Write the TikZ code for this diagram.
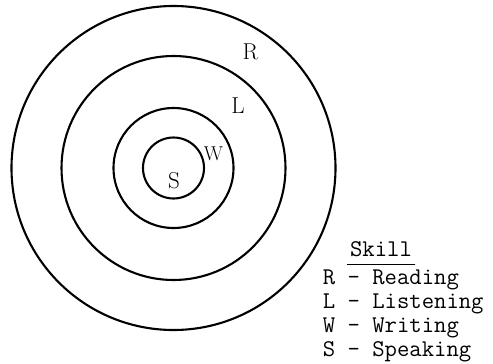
\documentclass[tikz,border=0pt]{standalone}
\usepackage{fontspec}
\begin{document}
\begin{tikzpicture}[
  x={(1pt,0pt)},
  y={(0pt,-1pt)},
  line join=round,
  line cap=round,
  ring/.style={draw=black,line width=2.1pt},
  zone/.style={font=\fontsize{23}{27}\selectfont,inner sep=0pt},
  key/.style={font=\ttfamily\fontsize{24}{24}\selectfont,inner sep=0pt,anchor=base west},
  rule/.style={draw=black,line width=1.2pt}
]
  \useasboundingbox (0,0) rectangle (493,364);

  % Common centre of the four nested skill rings.
  \coordinate (O) at (173.5,168);
  \draw[ring] (O) circle[radius=162pt];
  \draw[ring] (O) circle[radius=112pt];
  \draw[ring] (O) circle[radius=60pt];
  \draw[ring] (O) circle[radius=30.5pt];

  % One letter per ring, set in the band it belongs to.
  \node[zone] (labR) at (250.5,51.5) {R};
  \node[zone] (labL) at (238,106) {L};
  \node[zone,font=\fontsize{20}{24}\selectfont] (labW) at (213.5,153.5) {W};
  \node[zone] (labS) at (174,180.5) {S};

  % Legend: heading with its rule, then one line per skill.
  \node[key,anchor=base,inner xsep=2.5pt,inner ysep=7pt] (skill) at (381,256.7) {Skill};
  \draw[rule] (skill.south west) -- (skill.south east);
  \foreach \k/\txt/\y in {r/R - Reading/284,l/L - Listening/308.3,w/W - Writing/332.6,s/S - Speaking/356.9} {
    \node[key] (key\k) at (322.7,\y) {\txt};
  }
\end{tikzpicture}
\end{document}
